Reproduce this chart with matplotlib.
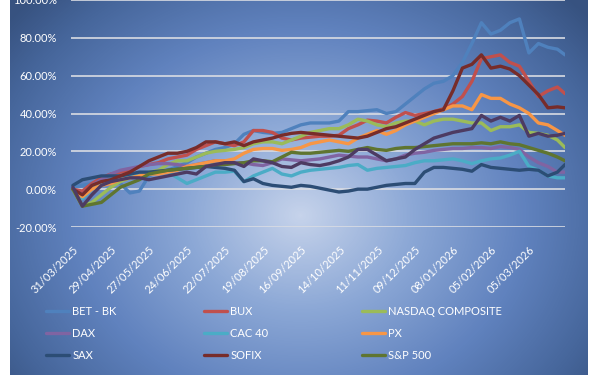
import numpy as np
import matplotlib
matplotlib.use('Agg')
import matplotlib.pyplot as plt
from matplotlib.colors import LinearSegmentedColormap
from matplotlib.ticker import FuncFormatter

# trading-day index of each sampled value (category axis of trading days)
sample_idx = list(range(0, 256, 5)) + [259]

tick_pos = list(range(0, 241, 20))
tick_labels = ['31/03/2025', '29/04/2025', '27/05/2025', '24/06/2025', '22/07/2025',
               '19/08/2025', '16/09/2025', '14/10/2025', '11/11/2025', '09/12/2025',
               '08/01/2026', '05/02/2026', '05/03/2026']

# cumulative return, %
bet_bk = [1, 2, 3, 3, 4, 3, -2, -1, 7, 9, 10, 12, 14, 17, 19, 21, 22, 24, 29, 31,
          30, 29.5, 30, 32, 34, 35, 35, 35, 36, 41, 41, 41.5, 42, 40, 41, 45, 49, 53, 56, 57,
          60, 67, 77, 88, 82, 84, 88, 90, 72, 77, 75, 74, 71]
bux = [0, -1, 3, 6, 8, 9, 10, 12, 13, 14, 16, 17, 18, 21, 23, 25, 24, 23, 25, 31,
       31, 30, 27, 26, 27, 27.5, 28, 28, 28.5, 32, 34, 36.5, 36, 35, 38, 40.5, 39, 40, 41, 42.5,
       45, 49, 57, 69, 70, 71, 67, 65, 57, 49, 52, 54, 50.5]
nasdaq = [0, -9, -7, -3, 1, 4, 6, 7, 9, 10, 13, 15, 15, 17, 19, 20, 20.5, 21, 22, 24,
          25, 25, 24, 26, 28, 30, 31, 32, 32, 34, 37, 36, 34, 33, 35, 36, 36, 34, 36, 37,
          37, 36, 35, 35, 31, 33, 33, 34, 30, 29.5, 28.5, 26, 22]
dax = [0, -3, 2, 5, 8, 10, 11, 12, 13, 13.5, 13.5, 13, 12, 13, 14, 15, 15, 14, 14, 13,
       12.5, 14, 16, 15.5, 15, 15.5, 16, 17, 18, 17.5, 17, 17, 16, 15, 16, 18, 19, 19.5, 20.5, 21,
       21.5, 21.5, 22, 22, 21.5, 22.5, 22, 21, 17, 14, 12, 9, 9]
cac40 = [0, -5, 0, 3, 5, 6, 7, 7, 8, 8.5, 9, 6, 3, 5, 7, 9, 9, 9.5, 4, 7,
         9, 11, 8, 7, 9, 10, 10.5, 11, 11.5, 12.5, 13, 10, 11, 11.5, 12, 12.5, 14, 15, 15, 15.5,
         16, 15, 13.5, 15, 16, 16.5, 18, 20, 12, 10, 7, 6, 6]
px = [0, -4, 0, 2, 3, 5, 6, 7, 8, 8, 9, 10, 12, 13, 14, 15, 15, 16, 19, 21,
      21.5, 21.5, 20.5, 21, 22, 24, 25, 26, 25, 24, 27, 29, 31, 29, 31, 34, 36, 38, 40, 42,
      44, 44, 42, 50, 48, 48, 45, 43, 40, 35, 34, 31, 28.5]
sax = [2, 5, 6, 7, 7, 7, 8, 9, 9, 9.5, 10, 10.5, 11, 11.5, 12, 11.5, 11, 10, 4, 5.5,
       3, 2, 1.5, 1, 2, 1.5, 0.5, -0.5, -1.5, -1, 0, 0, 1, 2, 2.5, 3, 3, 9, 11.5, 11.5,
       11, 10.5, 9.5, 13, 11.5, 11, 10.5, 10, 10.5, 10, 7, 9, 13]
sofix = [0, -3, 2, 4, 5, 7, 9, 12, 15, 17, 19, 19, 20, 22, 25, 25, 24, 25, 23, 25,
         26, 27, 28.5, 29.5, 30, 29.5, 29, 28.5, 28, 27.5, 27, 28, 30, 32, 33, 35, 37, 39, 41, 42,
         52, 64, 66, 71, 64, 65, 63.5, 60, 55, 50, 43, 43.5, 43]
sp500 = [0, -9, -8, -7, -3, 1, 3, 5, 8, 9, 10, 10.5, 11, 11.5, 12, 13, 13, 13.5, 14, 15,
         15, 14.5, 17, 19.5, 19, 19, 19.5, 20, 20.5, 20, 21, 22, 21, 20.5, 21.5, 22, 22, 22.5, 23, 23.5,
         24, 24, 24, 24.5, 24, 25, 24, 23.5, 22, 20.5, 19, 17, 15]
tenth = [1, -9, -3, 2, 4, 5, 6, 6, 5, 6, 7, 8, 9, 8, 12, 13, 14, 14, 12, 16,
         15, 14, 12, 11.5, 14, 13, 12.5, 13.5, 15, 17, 21, 21, 18, 15, 16, 17, 21, 24, 27, 28.5,
         30, 31, 32, 39, 36, 38, 36, 39, 28, 29.5, 28, 28.5, 29.5]

series = [
    ('BET - BK', bet_bk, '#4f81bd'),
    ('BUX', bux, '#c0504d'),
    ('NASDAQ COMPOSITE', nasdaq, '#9bbb59'),
    ('DAX', dax, '#8064a2'),
    ('CAC 40', cac40, '#4bacc6'),
    ('PX', px, '#f79646'),
    ('SAX', sax, '#2c4d75'),
    ('SOFIX', sofix, '#772c2a'),
    ('S&P 500', sp500, '#5f7530'),
    ('_hidden', tenth, '#4d3b62'),
]

FONT = ['Lato', 'DejaVu Sans']
plt.rcParams['font.family'] = FONT

W, H = 600, 375
fig = plt.figure(figsize=(W / 100, H / 100), dpi=100)
fig.patch.set_facecolor('white')

# background radial gradient of the chart area
bg = fig.add_axes([10 / W, 0, 578 / W, 1])
X, Y = np.meshgrid(np.arange(10, 588), np.arange(0, 375))
d = np.sqrt(((X - 300) / 300.0) ** 2 + ((Y - 215) / 250.0) ** 2)
cmap = LinearSegmentedColormap.from_list('bg', [
    (0.0, (198/255, 211/255, 235/255)),
    (0.3, (140/255, 168/255, 214/255)),
    (0.6, (96/255, 130/255, 190/255)),
    (0.85, (70/255, 102/255, 155/255)),
    (1.0, (55/255, 82/255, 128/255))])
bg.imshow(np.clip(d / 1.25, 0, 1), cmap=cmap, vmin=0, vmax=1, aspect='auto',
          interpolation='bilinear')
bg.set_axis_off()

ax = fig.add_axes([71 / W, (H - 227) / H, (565 - 71) / W, 227 / H])
ax.set_facecolor('none')
ax.set_xlim(-1, 259)
ax.set_ylim(-20, 100)
ax.set_yticks(np.arange(-20, 101, 20))
ax.yaxis.set_major_formatter(FuncFormatter(lambda v, p: f'{v:.2f}%'))
ax.grid(axis='y', color='#d9dce3', linewidth=1.2)
ax.set_axisbelow(True)
for s in ax.spines.values():
    s.set_visible(False)
ax.tick_params(axis='both', length=0, colors='white', labelsize=8)
ax.tick_params(axis='y', pad=10)
ax.set_xticks(tick_pos)
ax.set_xticklabels(tick_labels, rotation=45, ha='right', va='top',
                   rotation_mode='anchor', fontsize=8, color='white')
ax.tick_params(axis='x', pad=12)

handles = {}
for name, vals, col in series:
    ln, = ax.plot(sample_idx, vals, color=col, linewidth=2.4, solid_joinstyle='round',
                  solid_capstyle='round', label=name)
    handles[name] = ln

columns = [(['BET - BK', 'DAX', 'SAX'], 46),
           (['BUX', 'CAC 40', 'SOFIX'], 204),
           (['NASDAQ COMPOSITE', 'PX', 'S&P 500'], 362)]
for names, x0 in columns:
    fig.legend([handles[n] for n in names], names, loc='upper left',
               bbox_to_anchor=(x0 / W, 1 - 306 / H), frameon=False, fontsize=8,
               labelcolor='white', handlelength=2.1, handletextpad=0.25,
               labelspacing=1.0, borderpad=0, borderaxespad=0)

fig.savefig('out.png', dpi=100, facecolor=fig.get_facecolor())
